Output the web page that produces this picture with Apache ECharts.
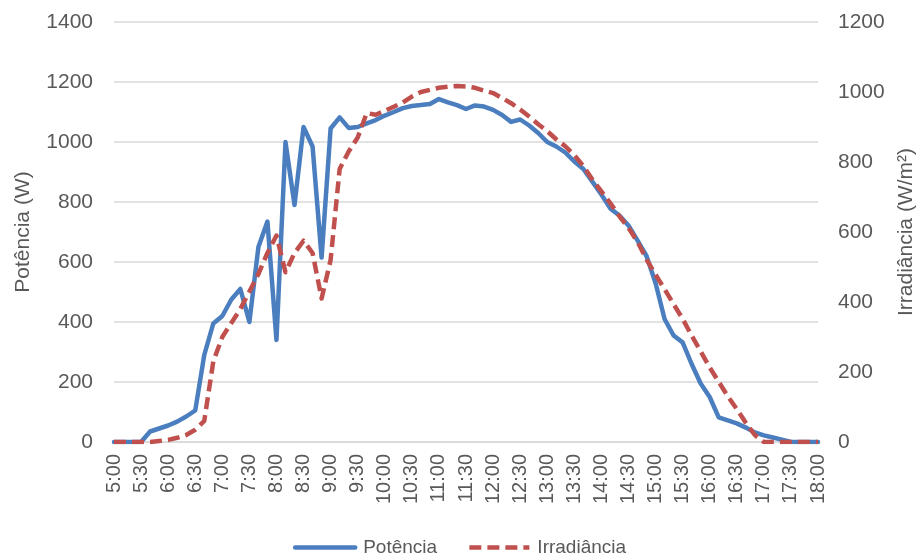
<!DOCTYPE html>
<html>
<head>
<meta charset="utf-8">
<script src="https://cdn.jsdelivr.net/npm/echarts@6/dist/echarts.min.js"></script>
<style>
  html, body { margin: 0; padding: 0; background: #ffffff; }
  #chart { width: 919px; height: 557px; }
</style>
</head>
<body>
<div id="chart"></div>
<script>
// Time of day, every 10 minutes
const times = [
  '5:00','5:10','5:20','5:30','5:40','5:50','6:00','6:10','6:20','6:30','6:40','6:50',
  '7:00','7:10','7:20','7:30','7:40','7:50','8:00','8:10','8:20','8:30','8:40','8:50',
  '9:00','9:10','9:20','9:30','9:40','9:50','10:00','10:10','10:20','10:30','10:40','10:50',
  '11:00','11:10','11:20','11:30','11:40','11:50','12:00','12:10','12:20','12:30','12:40','12:50',
  '13:00','13:10','13:20','13:30','13:40','13:50','14:00','14:10','14:20','14:30','14:40','14:50',
  '15:00','15:10','15:20','15:30','15:40','15:50','16:00','16:10','16:20','16:30','16:40','16:50',
  '17:00','17:10','17:20','17:30','17:40','17:50','18:00'
];

// Power output (W)
const potencia = [
  0, 0, 0, 0, 35, 45, 55, 68, 85, 105, 290, 395,
  420, 475, 510, 400, 650, 735, 340, 1000, 790, 1050, 985, 615,
  1045, 1082, 1047, 1050, 1062, 1073, 1088, 1100, 1113, 1120, 1123, 1127,
  1143, 1132, 1123, 1110, 1122, 1118, 1107, 1090, 1067, 1075, 1055, 1030,
  1000, 985, 965, 935, 910, 868, 825, 778, 755, 722, 672, 620,
  530, 410, 355, 332, 260, 195, 150, 82, 72, 62, 48, 32,
  22, 15, 8, 0, 0, 0, 0
];

// Solar irradiance (W/m²)
const irradiancia = [
  0, 0, 0, 0, 0, 3, 6, 12, 20, 35, 60, 230,
  300, 340, 380, 430, 480, 540, 590, 485, 540, 575, 540, 410,
  520, 780, 830, 870, 940, 935, 946, 958, 970, 987, 1000, 1006,
  1012, 1015, 1017, 1016, 1012, 1004, 997, 983, 968, 950, 930, 908,
  888, 865, 845, 820, 788, 750, 716, 682, 645, 612, 572, 522,
  478, 437, 394, 352, 304, 259, 213, 172, 131, 94, 55, 20,
  0, 0, 0, 0, 0, 0, 0
];

const FONT = 'Liberation Sans';
const TEXT = '#595959';
const GRID = '#d9d9d9';
const BLUE = '#4a7ebf';
const RED = '#c0504d';

const plain = v => String(v);

const chart = echarts.init(document.getElementById('chart'), null, { renderer: 'canvas' });

chart.setOption({
  animation: false,
  backgroundColor: '#ffffff',
  textStyle: { fontFamily: FONT, color: TEXT },
  grid: {
    left: 114, right: 101, top: 22, bottom: 115,
    containLabel: false,
    outerBoundsMode: 'none'
  },
  legend: {
    top: 533,
    left: 'center',
    itemWidth: 60,
    itemHeight: 14,
    itemGap: 30,
    itemStyle: { opacity: 0 },
    lineStyle: { width: 4.5 },
    textStyle: { fontFamily: FONT, fontSize: 19, color: TEXT, padding: [0, 0, 0, 3] },
    data: ['Potência', 'Irradiância']
  },
  xAxis: {
    type: 'category',
    data: times,
    boundaryGap: false,
    axisLine: { lineStyle: { color: GRID, width: 1.5 } },
    axisTick: { show: false },
    axisLabel: {
      rotate: 90,
      interval: 2,
      margin: 12,
      fontFamily: FONT,
      fontSize: 20,
      color: TEXT
    },
    splitLine: { show: false }
  },
  yAxis: [
    {
      type: 'value',
      min: 0,
      max: 1400,
      interval: 200,
      name: 'Potência (W)',
      nameLocation: 'middle',
      nameRotate: 90,
      nameGap: 80,
      nameTextStyle: { fontFamily: FONT, fontSize: 21, color: TEXT },
      axisLine: { show: false },
      axisTick: { show: false },
      axisLabel: { fontFamily: FONT, fontSize: 21, color: TEXT, margin: 21, formatter: plain },
      splitLine: { lineStyle: { color: GRID, width: 1.5 } }
    },
    {
      type: 'value',
      min: 0,
      max: 1200,
      interval: 200,
      position: 'right',
      name: 'Irradiância (W/m²)',
      nameLocation: 'middle',
      nameRotate: 90,
      nameGap: 76,
      nameTextStyle: { fontFamily: FONT, fontSize: 21, color: TEXT },
      axisLine: { show: false },
      axisTick: { show: false },
      axisLabel: { fontFamily: FONT, fontSize: 21, color: TEXT, margin: 20, formatter: plain },
      splitLine: { show: false }
    }
  ],
  series: [
    {
      name: 'Potência',
      type: 'line',
      yAxisIndex: 0,
      data: potencia,
      symbol: 'none',
      color: BLUE,
      lineStyle: { color: BLUE, width: 4.5, join: 'round', cap: 'round' }
    },
    {
      name: 'Irradiância',
      type: 'line',
      yAxisIndex: 1,
      data: irradiancia,
      symbol: 'none',
      color: RED,
      lineStyle: { color: RED, width: 4.5, type: [12, 6], join: 'round' }
    }
  ]
});
</script>
</body>
</html>
